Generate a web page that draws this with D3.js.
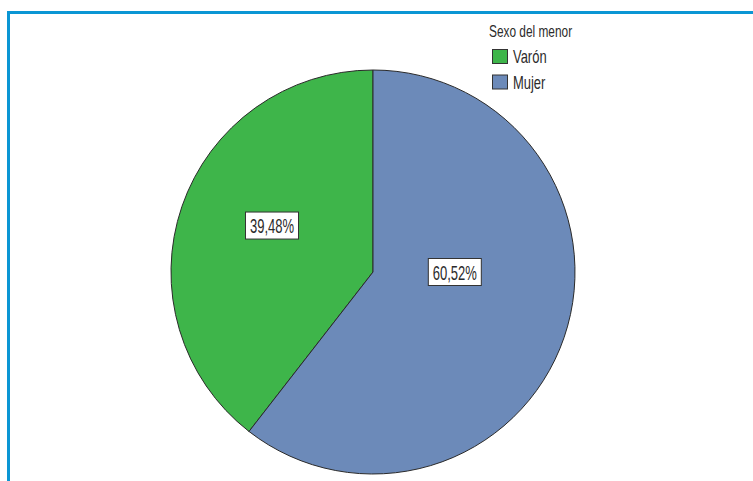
<!DOCTYPE html>
<html>
<head>
<meta charset="utf-8">
<script src="https://cdn.jsdelivr.net/npm/d3@7"></script>
<style>
  html, body { margin: 0; padding: 0; background: #fff; }
  svg { display: block; }
  text { font-family: "Liberation Sans", Arial, sans-serif; fill: #2b2b2b; }
</style>
</head>
<body>
<svg id="chart" width="753" height="481"></svg>
<script>
// Sexo del menor: percentage of cases
const categories = ["Varón", "Mujer"];
const percentages = [39.48, 60.52];
const legendTitle = "Sexo del menor";

const colors = d3.scaleOrdinal()
  .domain(categories)
  .range(["#3eb54a", "#6c8ab9"]);

const fmt = v => d3.format(".2f")(v).replace(".", ",") + "%";

const svg = d3.select("#chart");
const W = 753, H = 481;

// frame
svg.append("path")
  .attr("d", `M8.5,${H} V12.5 H${W}`)
  .attr("fill", "none")
  .attr("stroke", "#0a96d4")
  .attr("stroke-width", 3);

const cx = 373, cy = 272, r = 202;
const data = categories.map((c, i) => ({ cat: c, value: percentages[i] }));

// slices run counter-clockwise from 12 o'clock
const pie = d3.pie().value(d => d.value).sort(null)
  .startAngle(2 * Math.PI).endAngle(0);
const arcs = pie(data);
const arc = d3.arc().innerRadius(0).outerRadius(r);

const g = svg.append("g").attr("transform", `translate(${cx},${cy})`);
g.selectAll("path.slice")
  .data(arcs)
  .join("path")
  .attr("class", "slice")
  .attr("d", arc)
  .attr("fill", d => colors(d.data.cat))
  .attr("stroke", "#2a2a2a")
  .attr("stroke-width", 1)
  .attr("stroke-linejoin", "round");

// value labels in boxes, anchored inside each slice (fractions of the radius)
const labelAnchor = { "Varón": [-0.5, -0.23], "Mujer": [0.405, 0] };
const labels = g.selectAll("g.lbl")
  .data(arcs)
  .join("g")
  .attr("class", "lbl")
  .attr("transform", d => {
    const [fx, fy] = labelAnchor[d.data.cat];
    return `translate(${fx * r},${fy * r})`;
  });
labels.append("rect")
  .attr("x", -26.5).attr("y", -13.5)
  .attr("width", 53).attr("height", 27)
  .attr("fill", "#fff")
  .attr("stroke", "#333")
  .attr("stroke-width", 1);
labels.append("text")
  .attr("text-anchor", "middle")
  .attr("y", 7.5)
  .attr("font-size", 21)
  .attr("transform", "scale(0.62,1)")
  .text(d => fmt(d.data.value));

// legend
const sx = 0.72;
const lg = svg.append("g").attr("transform", "translate(489,0)");
lg.append("text")
  .attr("x", 0).attr("y", 37.5)
  .attr("font-size", 16.5)
  .attr("transform", `scale(${sx},1)`)
  .text(legendTitle);
const items = lg.selectAll("g.item")
  .data(categories)
  .join("g")
  .attr("class", "item")
  .attr("transform", (d, i) => `translate(0,${49 + i * 25.5})`);
items.append("rect")
  .attr("x", 3.5).attr("y", 0.5)
  .attr("width", 15).attr("height", 14)
  .attr("fill", d => colors(d))
  .attr("stroke", "#333")
  .attr("stroke-width", 1);
items.append("text")
  .attr("x", 24 / sx).attr("y", 14)
  .attr("font-size", 18)
  .attr("transform", `scale(${sx},1)`)
  .text(d => d);
</script>
</body>
</html>
